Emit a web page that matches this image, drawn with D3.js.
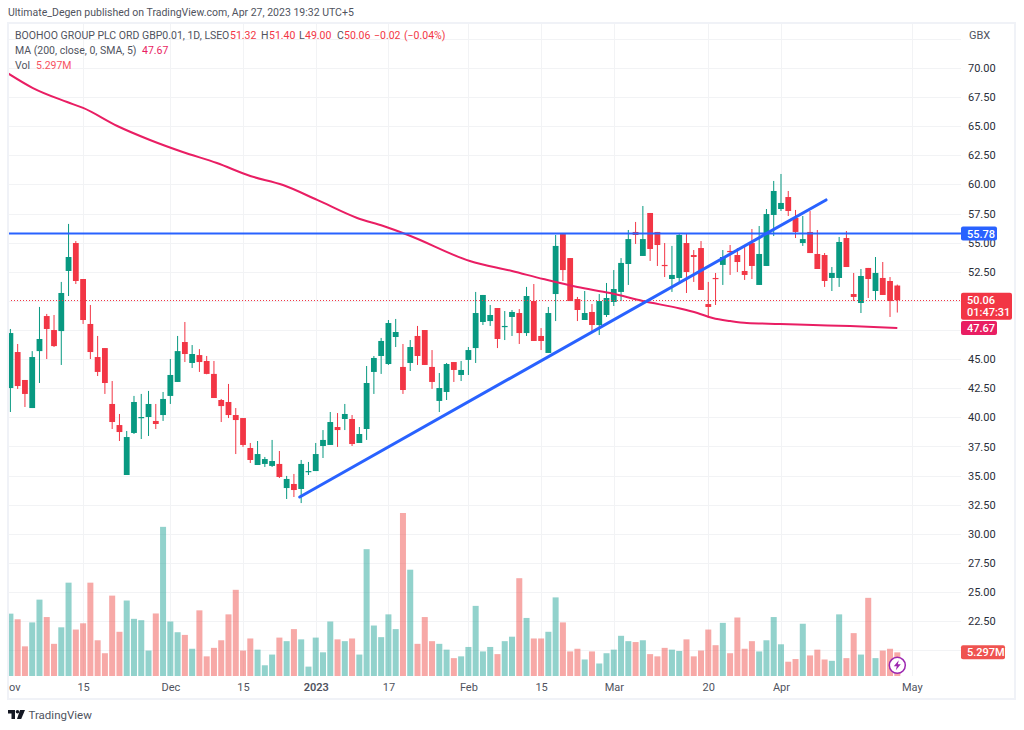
<!DOCTYPE html>
<html>
<head>
<meta charset="utf-8">
<style>
  html, body { margin: 0; padding: 0; background: #fff; }
  svg { display: block; }
  text { font-family: Roboto, sans-serif; }
</style>
<script src="https://cdn.jsdelivr.net/npm/d3@7"></script>
</head>
<body>
<div id="chart"></div>
<script>
// daily candles, Nov 2022 - Apr 2023
const opens = [42.52,45.61,43.21,40.80,45.69,48.70,47.50,47.41,52.57,54.97,51.88,48.02,45.18,45.95,41.15,39.34,35.05,38.66,39.94,40.03,39.69,40.20,41.84,43.04,46.47,44.67,45.35,44.84,43.73,41.49,41.32,40.20,39.94,37.37,35.91,36.00,35.83,36.00,33.93,34.28,33.85,35.31,35.39,37.54,37.63,39.17,39.86,39.86,37.80,39.00,43.90,45.27,44.58,46.90,44.33,44.67,46.99,47.50,44.33,41.41,42.18,44.75,43.64,44.93,45.95,48.19,48.27,49.39,47.76,48.62,48.96,47.24,49.99,46.99,45.53,50.59,55.74,53.68,50.16,48.36,49.05,47.93,48.79,49.91,50.77,53.17,55.92,53.86,57.55,55.92,53.09,51.88,51.97,54.97,53.94,54.54,49.73,51.97,53.09,54.29,53.94,52.57,54.97,51.37,53.00,57.38,57.89,58.92,57.12,54.97,55.92,54.03,53.94,51.97,51.97,55.40,50.59,49.82,52.83,50.85,51.97,51.71,51.32];
const highs = [47.59,46.30,43.21,45.69,49.48,48.88,48.79,51.63,56.61,55.14,51.88,49.65,46.99,45.95,43.12,40.29,38.83,41.84,42.01,42.27,41.15,42.18,45.01,46.99,48.19,46.21,45.86,45.27,44.84,41.58,42.87,40.80,39.94,37.80,37.97,36.60,38.06,37.11,34.97,35.14,36.34,36.17,37.80,38.91,40.46,40.37,41.15,40.20,39.17,44.41,45.27,46.82,48.36,48.45,46.30,46.64,47.85,47.50,45.78,43.81,44.67,44.75,44.84,46.04,50.77,50.51,49.65,49.39,49.13,49.22,49.30,51.20,51.45,47.67,49.48,55.66,55.74,53.68,50.34,50.85,49.73,50.59,51.54,52.65,53.68,56.09,56.78,58.15,57.55,55.92,54.97,54.72,55.74,55.74,54.37,55.14,51.63,52.40,54.37,54.80,54.54,54.63,56.17,56.43,57.89,60.30,60.90,59.44,57.81,57.29,57.72,56.09,54.11,52.91,55.49,56.00,52.40,52.74,52.83,53.77,53.34,52.05,51.40];
const lows = [40.46,42.44,40.89,40.80,42.95,45.01,46.04,44.50,50.42,51.45,48.02,45.01,43.55,42.01,39.00,37.97,35.05,38.57,38.14,38.40,39.00,39.69,41.15,43.04,44.75,44.24,43.90,43.70,41.66,39.60,39.94,36.85,37.46,36.08,35.91,35.74,35.74,34.79,32.99,33.16,32.64,35.05,35.39,36.51,37.63,37.46,38.91,37.54,37.80,38.06,42.01,43.73,44.50,46.04,42.01,43.98,44.50,44.50,42.44,40.46,41.49,43.04,43.12,43.64,44.67,47.93,47.85,45.95,46.64,46.99,46.30,46.99,46.56,45.78,45.53,48.27,51.71,49.99,48.27,48.36,47.24,47.07,48.62,49.56,49.99,51.37,54.89,53.86,53.43,53.00,52.05,50.77,51.63,50.68,51.63,50.94,48.53,49.65,51.37,52.23,52.48,51.80,51.88,51.37,53.00,55.57,57.72,57.29,55.40,54.72,54.11,52.74,51.20,50.85,51.20,52.91,49.99,48.96,50.25,50.08,50.51,48.62,49.00];
const closes = [47.24,42.69,42.01,45.18,46.73,47.59,46.12,50.68,53.77,51.71,48.36,45.61,43.90,42.95,39.60,38.74,38.31,41.32,40.03,41.15,39.43,41.58,43.64,45.69,45.44,45.44,44.75,43.73,41.66,40.97,40.20,39.77,37.63,36.34,36.85,36.42,36.25,34.88,34.71,33.76,36.00,35.39,36.85,38.06,39.60,38.91,40.29,37.71,38.57,42.95,45.10,46.56,48.10,47.33,42.35,46.04,45.27,44.50,43.04,42.52,44.58,44.07,44.07,45.78,48.96,50.51,48.79,46.73,47.85,49.05,47.24,50.42,46.56,46.56,48.96,54.72,52.65,49.99,49.22,48.96,47.93,49.99,50.25,51.02,53.26,55.31,55.66,55.31,54.46,54.80,53.00,52.23,55.66,52.48,53.77,50.94,49.48,51.88,53.77,54.20,53.34,52.23,53.00,54.03,57.46,59.44,58.41,57.72,55.92,55.31,54.11,52.74,51.71,52.40,55.06,52.91,50.34,52.14,51.88,52.40,50.51,49.99,50.06];
// volume in millions
const volumes = [13.96,12.7,6.64,12.0,17.1,13.2,7.2,10.9,20.9,10.4,11.8,20.9,8.0,5.1,18.0,9.9,16.9,12.8,12.5,5.7,14.0,33.4,12.2,9.8,9.2,6.1,14.7,4.4,6.3,8.0,13.8,19.3,5.7,8.4,5.9,2.4,4.8,8.6,7.8,10.5,8.2,2.1,8.6,5.3,12.2,8.2,7.8,8.4,4.8,28.4,11.3,8.7,13.8,10.5,36.5,23.8,7.2,13.2,7.8,7.2,5.9,4.0,4.4,6.5,15.7,5.5,6.5,4.9,7.8,8.8,21.9,13.0,8.4,8.4,9.9,17.6,12.0,5.5,6.1,3.7,5.5,2.8,5.1,5.9,9.0,7.8,7.6,8.0,4.9,4.4,6.3,5.9,5.6,8.2,4.4,5.7,10.4,6.9,11.9,5.1,13.1,6.1,7.8,5.5,8.0,13.2,7.1,3.2,3.8,11.7,4.6,5.9,3.7,3.4,13.8,4.0,9.6,4.8,17.5,4.0,5.7,6.1,5.297];

// MA 200, sampled along the line
const maIndex = [-0.3,3.1,7.8,10,14.7,19.2,23.7,28.4,33,37.5,42.2,47.7,51.3,54.7,63.2,69,73.3,78,82.5,87,92.1,94.5,96.6,99,101.3,105.9,110.4,115.5,122];
const maValues = [69.53,68.28,67.08,66.57,65.02,63.82,62.79,61.84,60.73,59.95,58.67,57.12,56.43,55.66,53.43,52.57,51.88,51.19,50.68,49.99,49.35,48.96,48.53,48.27,48.10,48.02,47.93,47.84,47.67];

const resistance = 55.78;
const trendIndex = [39.8, 112.2];
const trendPrice = [33.16, 58.67];

// 50.00 and 47.50 sit under the price labels, so only 55.00 stays half covered
const priceTicks = [70,67.5,65,62.5,60,57.5,55,52.5,45,42.5,40,37.5,35,32.5,30,27.5,25,22.5];
const gridPrices = [72.5,70,67.5,65,62.5,60,57.5,55,52.5,50,47.5,45,42.5,40,37.5,35,32.5,30,27.5,25,22.5,20];
const timeTickIndex = [0,10,22,32,42,52,63,73,83,96,106,124];
const timeTickLabels = ["Nov","15","Dec","15","2023","17","Feb","15","Mar","20","Apr","May"];
const boldTicks = ["2023"];

const width = 1024, height = 730;
const frame = { left: 8, top: 23, right: 1015, bottom: 699 };
const paneRight = 961, paneBottom = 676;
const textColor = "#50535e", upColor = "#089981", downColor = "#f23645";
const upVolume = "#26a69a", downVolume = "#ef5350";
const maColor = "#e91e63", lineColor = "#2962ff";
const gridColor = "#f2f3f5";

const x = d3.scaleLinear().domain([0, 122]).range([10.4, 897.3]);
const y = d3.scaleLinear().domain([32.5, 70]).range([504.7, 68]);
const v = d3.scaleLinear().domain([0, 36.5]).range([paneBottom, 513]);

const svg = d3.select("#chart").append("svg").attr("width", width).attr("height", height);
svg.append("rect").attr("width", width).attr("height", height).attr("fill", "#fff");

svg.append("clipPath").attr("id", "pane").append("rect")
    .attr("x", frame.left + 1).attr("y", frame.top + 1)
    .attr("width", paneRight - frame.left - 1).attr("height", paneBottom - frame.top - 1);
svg.append("clipPath").attr("id", "frame").append("rect")
    .attr("x", frame.left + 1).attr("y", frame.top + 1)
    .attr("width", frame.right - frame.left - 2).attr("height", frame.bottom - frame.top - 2);

const pane = svg.append("g").attr("clip-path", "url(#pane)");

// grid
pane.append("g").selectAll("line").data(gridPrices).join("line")
    .attr("x1", frame.left).attr("x2", paneRight)
    .attr("y1", d => Math.round(y(d)) + 0.5).attr("y2", d => Math.round(y(d)) + 0.5)
    .attr("stroke", gridColor);
pane.append("g").selectAll("line").data(timeTickIndex.slice(1)).join("line")
    .attr("x1", d => Math.round(x(d)) + 0.5).attr("x2", d => Math.round(x(d)) + 0.5)
    .attr("y1", frame.top).attr("y2", paneBottom)
    .attr("stroke", gridColor);

const candles = d3.range(closes.length).map(i => ({
    i, o: opens[i], h: highs[i], l: lows[i], c: closes[i], vol: volumes[i], up: closes[i] >= opens[i]
}));

// volume
pane.append("g").selectAll("rect").data(candles).join("rect")
    .attr("x", d => x(d.i) - 3).attr("width", 6)
    .attr("y", d => v(d.vol)).attr("height", d => paneBottom - v(d.vol))
    .attr("fill", d => d.up ? upVolume : downVolume)
    .attr("fill-opacity", 0.5);

// candles
const candle = pane.append("g").selectAll("g").data(candles).join("g");
candle.append("line")
    .attr("x1", d => x(d.i)).attr("x2", d => x(d.i))
    .attr("y1", d => y(d.h)).attr("y2", d => y(d.l))
    .attr("stroke", d => d.up ? upColor : downColor)
    .attr("stroke-width", 1);
candle.append("rect")
    .attr("x", d => x(d.i) - 2.9).attr("width", 5.8)
    .attr("y", d => y(Math.max(d.o, d.c)))
    .attr("height", d => Math.max(1.2, Math.abs(y(d.o) - y(d.c))))
    .attr("fill", d => d.up ? upColor : downColor);

// MA
const maLine = d3.line().x((d, i) => x(maIndex[i])).y(d => y(d)).curve(d3.curveMonotoneX);
pane.append("path").datum(maValues).attr("d", maLine)
    .attr("fill", "none").attr("stroke", maColor).attr("stroke-width", 2);

// last price line
const lastClose = closes[closes.length - 1], lastMa = maValues[maValues.length - 1], lastVolume = volumes[volumes.length - 1];
pane.append("line")
    .attr("x1", frame.left).attr("x2", paneRight)
    .attr("y1", Math.round(y(lastClose)) + 0.5).attr("y2", Math.round(y(lastClose)) + 0.5)
    .attr("stroke", downColor).attr("stroke-dasharray", "1 2");

// drawn lines
pane.append("line")
    .attr("x1", frame.left).attr("x2", paneRight)
    .attr("y1", y(resistance)).attr("y2", y(resistance))
    .attr("stroke", lineColor).attr("stroke-width", 2);
pane.append("line")
    .attr("x1", x(trendIndex[0])).attr("x2", x(trendIndex[1]))
    .attr("y1", y(trendPrice[0])).attr("y2", y(trendPrice[1]))
    .attr("stroke", lineColor).attr("stroke-width", 3).attr("stroke-linecap", "round");

// frame
svg.append("rect")
    .attr("x", frame.left).attr("y", frame.top)
    .attr("width", frame.right - frame.left).attr("height", frame.bottom - frame.top)
    .attr("fill", "none").attr("stroke", "#f0f2f7").attr("stroke-width", 2);

// axes
const priceAxis = svg.append("g").attr("transform", `translate(${paneRight},0)`)
    .call(d3.axisRight(y).tickValues(priceTicks).tickSize(0).tickPadding(7).tickFormat(d3.format(".2f")));
priceAxis.select(".domain").remove();
priceAxis.selectAll("text").attr("font-size", 11).attr("fill", "#2a2e39").attr("font-family", "Roboto, sans-serif");

const timeAxis = svg.append("g").attr("clip-path", "url(#frame)").append("g")
    .attr("transform", `translate(0,${paneBottom})`)
    .call(d3.axisBottom(x).tickValues(timeTickIndex).tickSize(0).tickPadding(7)
        .tickFormat((d, i) => timeTickLabels[i]));
timeAxis.select(".domain").remove();
timeAxis.selectAll("text").attr("font-size", 11).attr("fill", "#50535e")
    .attr("font-family", "Roboto, sans-serif")
    .attr("font-weight", (d, i) => boldTicks.includes(timeTickLabels[i]) ? 600 : 400);

svg.append("text").attr("x", 969).attr("y", 38.5).attr("font-size", 11).attr("fill", textColor).text("GBX");

// price labels
function pill(yMid, h, w, fill, lines) {
    svg.append("rect").attr("x", paneRight).attr("y", yMid - h / 2).attr("width", w).attr("height", h)
        .attr("rx", 2).attr("fill", fill);
    lines.forEach((t, i) => {
        svg.append("text").attr("x", paneRight + 6)
            .attr("y", yMid - h / 2 + 11 + i * 13)
            .attr("font-size", 11).attr("font-weight", 500).attr("fill", "#fff").text(t);
    });
}
pill(y(resistance), 14, 36, lineColor, [d3.format(".2f")(resistance)]);
svg.append("rect").attr("x", paneRight).attr("y", y(lastClose) - 7.5).attr("width", 51).attr("height", 27)
    .attr("rx", 2).attr("fill", downColor);
svg.append("text").attr("x", paneRight + 6).attr("y", y(lastClose) + 3.5)
    .attr("font-size", 11).attr("font-weight", 500).attr("fill", "#fff").text(d3.format(".2f")(lastClose));
svg.append("text").attr("x", paneRight + 6).attr("y", y(lastClose) + 16)
    .attr("font-size", 11).attr("font-weight", 500).attr("fill", "#fff").text("01:47:31");
pill(y(lastMa), 14, 36, maColor, [d3.format(".2f")(lastMa)]);
pill(v(lastVolume), 14, 44, downVolume, [lastVolume + "M"]);

// legend
function legendRow(yPos, parts) {
    const row = svg.append("text").attr("y", yPos).attr("font-size", 10.5);
    parts.forEach(([t, px, fill]) => {
        row.append("tspan").attr("x", px).attr("fill", fill).text(t);
    });
}
legendRow(16, [["Ultimate_Degen published on TradingView.com, Apr 27, 2023 19:32 UTC+5", 8, textColor]]);
legendRow(39, [
    ["BOOHOO GROUP PLC ORD GBP0.01, 1D, LSE", 15, textColor],
    ["O", 222, textColor], ["51.32", 230, downColor],
    ["H", 261, textColor], ["51.40", 269, downColor],
    ["L", 299, textColor], ["49.00", 305, downColor],
    ["C", 337, textColor], ["50.06", 344, downColor],
    ["\u22120.02", 374, downColor], ["(\u22120.04%)", 404, downColor]
]);
legendRow(54, [["MA (200, close, 0, SMA, 5)", 15, textColor], ["47.67", 142, maColor]]);
legendRow(69, [["Vol", 15, textColor], ["5.297M", 36, "#f7525f"]]);

// logo and footer
const logo = svg.append("g").attr("transform", "translate(8,710)").attr("fill", "#131722");
logo.append("path").attr("d", "M0 0H7V9H3.5V3.5H0Z");
logo.append("circle").attr("cx", 9.5).attr("cy", 1.8).attr("r", 1.8);
logo.append("path").attr("d", "M12 0H17L13.2 9H9Z");
svg.append("text").attr("x", 28.5).attr("y", 719).attr("font-size", 11.5).attr("fill", textColor).text("TradingView");

// lightning badge
const badge = svg.append("g").attr("transform", `translate(${x(122)},665.3)`);
badge.append("circle").attr("r", 8).attr("fill", "#fff").attr("stroke", "#9c27b0").attr("stroke-width", 1.5);
badge.append("path").attr("d", "M1.5 -5L-3.5 1H-0.5L-1.5 5L3.5 -1H0.5Z").attr("fill", "#9c27b0");
</script>
</body>
</html>
